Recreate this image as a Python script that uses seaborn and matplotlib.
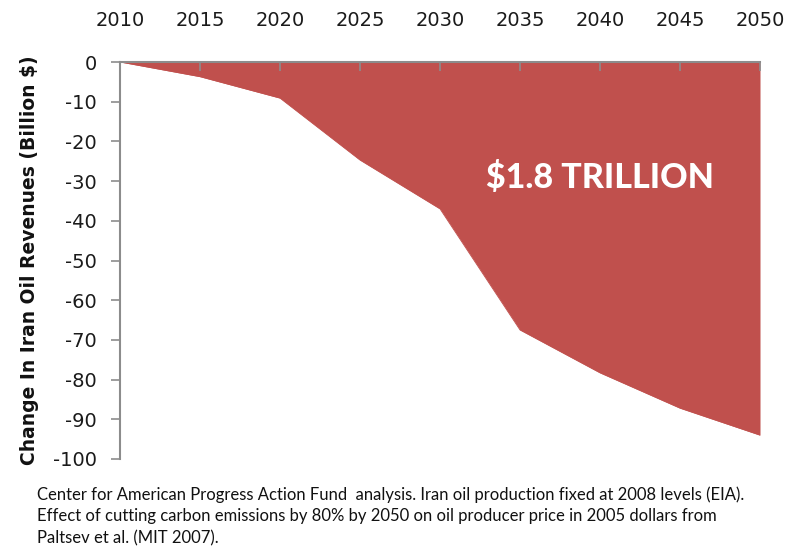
import matplotlib
matplotlib.use("Agg")
import matplotlib.pyplot as plt
import seaborn as sns
import pandas as pd

# Annual change in Iran's oil revenues under an 80% carbon cut scenario
years = [2010, 2015, 2020, 2025, 2030, 2035, 2040, 2045, 2050]
revenue_change = [0, -3.7, -9.1, -24.7, -37.0, -67.5, -78.3, -87.2, -94.0]
x_ticks = [2010, 2015, 2020, 2025, 2030, 2035, 2040, 2045, 2050]
y_ticks = [0, -10, -20, -30, -40, -50, -60, -70, -80, -90, -100]
total_label = "$1.8 TRILLION"
y_label = "Change In Iran Oil Revenues (Billion $)"
caption = ("Center for American Progress Action Fund  analysis. Iran oil production fixed at 2008 levels (EIA).\n"
           "Effect of cutting carbon emissions by 80% by 2050 on oil producer price in 2005 dollars from\n"
           "Paltsev et al. (MIT 2007).")

df = pd.DataFrame({"year": years, "change": revenue_change})

sns.set_theme(style="white")
plt.rcParams["font.family"] = ["DejaVu Sans"]

fill_color = "#C0504D"
spine_color = "#8c8c8c"

fig = plt.figure(figsize=(7.88, 5.51), dpi=100)
ax = fig.add_axes([120 / 788, 1 - 459 / 551, 640 / 788, 397 / 551])

ax.fill_between(df["year"], df["change"], 0, color=fill_color, linewidth=0, zorder=1)
sns.lineplot(data=df, x="year", y="change", ax=ax, color=fill_color, linewidth=0.6, zorder=2)

ax.set_xlim(2010, 2050)
ax.set_ylim(-100, 0)
ax.set_xticks(x_ticks)
ax.set_yticks(y_ticks)
ax.set_yticklabels([str(v) for v in y_ticks])
ax.set_xlabel("")
ax.set_ylabel(y_label, fontsize=13.5, fontweight="bold", color="#111111", labelpad=10)

ax.xaxis.tick_top()
ax.xaxis.set_label_position("top")
ax.set_axisbelow(False)
ax.tick_params(axis="x", which="major", top=True, bottom=False, labeltop=True, labelbottom=False,
               direction="in", length=6.5, width=1.2, color=spine_color,
               pad=23, labelsize=14, labelcolor="#1a1a1a")
ax.tick_params(axis="y", direction="out", length=6.5, width=1.2, color=spine_color,
               pad=10, labelsize=14, labelcolor="#1a1a1a", left=True)

for side in ["bottom", "right"]:
    ax.spines[side].set_visible(False)
for side in ["top", "left"]:
    ax.spines[side].set_color(spine_color)
    ax.spines[side].set_linewidth(1.5)
    ax.spines[side].set_zorder(4)

ax.text(2040.0, -29.0, total_label, ha="center", va="center", color="white",
        fontsize=24.5, fontweight="black", family=["Lato", "DejaVu Sans"], zorder=6)

fig.text(37 / 788, 1 - 486 / 551, caption, ha="left", va="top", fontsize=12,
         family=["Lato", "DejaVu Sans"], color="#111111", linespacing=1.45)

fig.savefig("out.png", dpi=100)
